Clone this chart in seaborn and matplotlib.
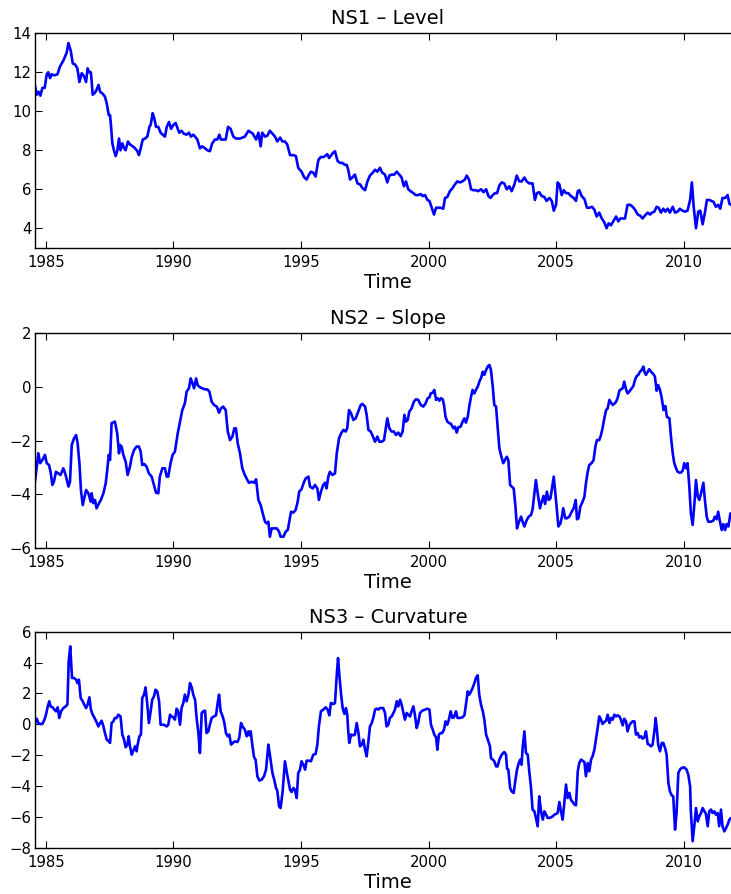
import numpy as np
import pandas as pd
import seaborn as sns
import matplotlib.pyplot as plt

# ==========================================
# DATA (decimal years)
# ==========================================

NS1_T = [
    1984.58, 1984.65, 1984.72, 1984.79, 1984.87, 1984.96, 1985.04, 1985.10, 1985.17, 1985.23,
    1985.30, 1985.36, 1985.46, 1985.56, 1985.69, 1985.82, 1985.89, 1985.98, 1986.06, 1986.15,
    1986.24, 1986.32, 1986.41, 1986.50, 1986.58, 1986.64, 1986.71, 1986.77, 1986.84, 1986.93,
    1986.99, 1987.07, 1987.13, 1987.23, 1987.32, 1987.39, 1987.47, 1987.52, 1987.56, 1987.61,
    1987.67, 1987.74, 1987.80, 1987.87, 1987.93, 1988.00, 1988.07, 1988.13, 1988.22, 1988.30,
    1988.41, 1988.50, 1988.59, 1988.65, 1988.72, 1988.80, 1988.89, 1988.98, 1989.06, 1989.11,
    1989.19, 1989.25, 1989.32, 1989.41, 1989.50, 1989.58, 1989.67, 1989.74, 1989.83, 1989.91,
    1990.00, 1990.09, 1990.17, 1990.23, 1990.32, 1990.41, 1990.52, 1990.61, 1990.69, 1990.78,
    1990.85, 1990.94, 1991.04, 1991.13, 1991.24, 1991.33, 1991.43, 1991.52, 1991.63, 1991.72,
    1991.80, 1991.86, 1991.95, 1992.05, 1992.14, 1992.24, 1992.35, 1992.45, 1992.61, 1992.80,
    1992.94, 1993.00, 1993.11, 1993.24, 1993.33, 1993.42, 1993.48, 1993.59, 1993.68, 1993.78,
    1993.88, 1993.98, 1994.07, 1994.18, 1994.27, 1994.37, 1994.46, 1994.57, 1994.70, 1994.80,
    1994.89, 1995.02, 1995.13, 1995.22, 1995.31, 1995.39, 1995.48, 1995.57, 1995.68, 1995.77,
    1995.87, 1995.94, 1996.03, 1996.10, 1996.16, 1996.24, 1996.33, 1996.43, 1996.53, 1996.62,
    1996.72, 1996.79, 1996.85, 1996.92, 1997.01, 1997.11, 1997.21, 1997.31, 1997.41, 1997.51,
    1997.60, 1997.70, 1997.81, 1997.90, 1997.99, 1998.09, 1998.18, 1998.29, 1998.38, 1998.46,
    1998.55, 1998.65, 1998.75, 1998.85, 1998.94, 1999.03, 1999.11, 1999.20, 1999.29, 1999.40,
    1999.49, 1999.59, 1999.69, 1999.76, 1999.86, 1999.95, 2000.03, 2000.12, 2000.21, 2000.29,
    2000.38, 2000.47, 2000.57, 2000.64, 2000.73, 2000.83, 2000.93, 2001.03, 2001.12, 2001.23,
    2001.32, 2001.42, 2001.49, 2001.58, 2001.66, 2001.75, 2001.85, 2001.94, 2002.05, 2002.15,
    2002.25, 2002.34, 2002.42, 2002.51, 2002.60, 2002.68, 2002.77, 2002.86, 2002.96, 2003.06,
    2003.16, 2003.25, 2003.36, 2003.45, 2003.55, 2003.64, 2003.75, 2003.84, 2003.94, 2004.07,
    2004.16, 2004.24, 2004.33, 2004.43, 2004.53, 2004.62, 2004.73, 2004.82, 2004.90, 2004.99,
    2005.05, 2005.12, 2005.21, 2005.29, 2005.38, 2005.47, 2005.57, 2005.68, 2005.77, 2005.84,
    2005.90, 2005.99, 2006.10, 2006.20, 2006.29, 2006.40, 2006.49, 2006.58, 2006.68, 2006.78,
    2006.88, 2006.97, 2007.05, 2007.14, 2007.23, 2007.34, 2007.43, 2007.51, 2007.60, 2007.69,
    2007.79, 2007.89, 2007.99, 2008.08, 2008.19, 2008.28, 2008.38, 2008.47, 2008.58, 2008.67,
    2008.75, 2008.84, 2008.93, 2009.01, 2009.10, 2009.19, 2009.27, 2009.36, 2009.45, 2009.56,
    2009.65, 2009.75, 2009.84, 2009.94, 2010.04, 2010.14, 2010.24, 2010.31, 2010.38, 2010.47,
    2010.56, 2010.64, 2010.73, 2010.82, 2010.90, 2010.99, 2011.08, 2011.16, 2011.25, 2011.34,
    2011.42, 2011.51, 2011.61, 2011.71, 2011.78, 2011.84,
]
NS1_V = [
    11.3, 10.85, 11.0, 10.8, 11.2, 11.2, 11.9, 12.0, 11.7, 11.9,
    11.85, 11.85, 11.9, 12.3, 12.6, 13.0, 13.5, 13.1, 12.45, 12.4,
    12.2, 11.5, 11.95, 11.8, 11.5, 12.2, 12.0, 12.0, 10.85, 10.95,
    11.1, 11.35, 11.0, 10.9, 10.75, 10.4, 9.8, 9.8, 9.2, 8.35,
    8.0, 7.7, 7.95, 8.6, 8.0, 8.35, 8.1, 8.0, 8.45, 8.3,
    8.2, 8.1, 7.95, 7.75, 8.1, 8.55, 8.6, 8.7, 9.2, 9.3,
    9.9, 9.65, 9.2, 9.2, 8.9, 8.8, 8.7, 9.2, 9.45, 9.1,
    9.3, 9.4, 9.1, 8.9, 9.0, 8.85, 8.8, 8.9, 8.7, 8.8,
    8.7, 8.55, 8.1, 8.2, 8.1, 8.0, 7.95, 8.35, 8.55, 8.55,
    8.8, 8.55, 8.55, 8.55, 9.2, 9.1, 8.7, 8.6, 8.6, 8.7,
    9.0, 8.95, 8.85, 8.55, 8.9, 8.2, 8.9, 8.7, 8.75, 9.0,
    8.85, 8.7, 8.45, 8.65, 8.45, 8.45, 8.3, 7.75, 7.75, 7.7,
    7.1, 6.9, 6.6, 6.5, 6.75, 6.9, 6.85, 6.65, 7.5, 7.65,
    7.65, 7.7, 7.8, 7.6, 7.7, 7.85, 7.95, 7.45, 7.35, 7.35,
    7.25, 7.25, 7.0, 6.5, 6.6, 6.75, 6.3, 6.25, 6.05, 5.95,
    6.4, 6.7, 6.85, 7.0, 6.9, 7.1, 6.85, 6.75, 6.35, 6.7,
    6.75, 6.75, 6.9, 6.75, 6.6, 6.15, 6.4, 6.0, 5.9, 5.8,
    5.7, 5.7, 5.75, 5.65, 5.7, 5.45, 5.4, 5.05, 4.7, 5.05,
    5.05, 5.05, 5.0, 5.55, 5.6, 5.9, 6.05, 6.25, 6.4, 6.35,
    6.4, 6.5, 6.7, 6.5, 6.0, 5.95, 5.95, 5.9, 6.0, 5.85,
    6.0, 5.65, 5.55, 5.7, 5.8, 5.8, 6.2, 6.35, 6.3, 6.0,
    6.15, 5.9, 6.25, 6.7, 6.4, 6.4, 6.6, 6.4, 6.3, 6.3,
    5.45, 5.8, 5.85, 5.65, 5.6, 5.4, 5.55, 5.4, 4.9, 5.2,
    6.35, 6.25, 5.7, 5.95, 5.8, 5.8, 5.65, 5.55, 5.4, 5.9,
    5.95, 5.65, 5.5, 5.05, 5.05, 5.1, 4.95, 4.6, 4.8, 4.5,
    4.3, 4.0, 4.25, 4.15, 4.35, 4.6, 4.35, 4.5, 4.5, 4.5,
    5.2, 5.2, 5.1, 4.95, 4.7, 4.65, 4.5, 4.65, 4.8, 4.7,
    4.8, 4.85, 5.1, 5.05, 4.8, 5.0, 4.85, 5.0, 4.8, 5.1,
    4.8, 4.85, 5.0, 4.9, 4.85, 4.9, 5.45, 6.35, 5.1, 4.0,
    4.85, 4.9, 4.2, 4.8, 5.45, 5.45, 5.4, 5.35, 5.1, 5.2,
    5.0, 5.55, 5.55, 5.7, 5.25, 5.2,
]

NS2_T = [
    1984.58, 1984.65, 1984.71, 1984.78, 1984.87, 1984.97, 1985.04, 1985.13, 1985.19, 1985.26,
    1985.32, 1985.40, 1985.49, 1985.58, 1985.69, 1985.78, 1985.89, 1985.95, 1986.02, 1986.11,
    1986.19, 1986.25, 1986.32, 1986.38, 1986.45, 1986.51, 1986.58, 1986.67, 1986.76, 1986.80,
    1986.86, 1986.93, 1986.99, 1987.09, 1987.16, 1987.26, 1987.35, 1987.41, 1987.47, 1987.52,
    1987.58, 1987.71, 1987.80, 1987.87, 1987.91, 1987.97, 1988.04, 1988.13, 1988.21, 1988.30,
    1988.37, 1988.46, 1988.56, 1988.65, 1988.72, 1988.78, 1988.86, 1988.95, 1989.04, 1989.15,
    1989.24, 1989.32, 1989.41, 1989.47, 1989.57, 1989.67, 1989.74, 1989.80, 1989.89, 1989.97,
    1990.06, 1990.17, 1990.26, 1990.35, 1990.45, 1990.52, 1990.61, 1990.68, 1990.74, 1990.81,
    1990.89, 1990.95, 1991.04, 1991.13, 1991.24, 1991.33, 1991.41, 1991.50, 1991.59, 1991.70,
    1991.79, 1991.86, 1991.95, 1992.05, 1992.13, 1992.22, 1992.31, 1992.39, 1992.45, 1992.52,
    1992.61, 1992.70, 1992.80, 1992.90, 1992.96, 1993.07, 1993.16, 1993.24, 1993.33, 1993.42,
    1993.50, 1993.59, 1993.65, 1993.72, 1993.78, 1993.85, 1993.94, 1994.05, 1994.14, 1994.20,
    1994.31, 1994.40, 1994.48, 1994.54, 1994.61, 1994.70, 1994.79, 1994.87, 1994.93, 1995.02,
    1995.12, 1995.19, 1995.29, 1995.35, 1995.46, 1995.55, 1995.64, 1995.70, 1995.78, 1995.87,
    1995.94, 1996.00, 1996.07, 1996.13, 1996.23, 1996.33, 1996.40, 1996.49, 1996.57, 1996.66,
    1996.75, 1996.81, 1996.88, 1996.96, 1997.05, 1997.14, 1997.24, 1997.34, 1997.40, 1997.51,
    1997.57, 1997.64, 1997.73, 1997.81, 1997.90, 1997.99, 1998.07, 1998.16, 1998.25, 1998.31,
    1998.38, 1998.46, 1998.55, 1998.64, 1998.72, 1998.81, 1998.90, 1998.98, 1999.05, 1999.11,
    1999.18, 1999.24, 1999.33, 1999.42, 1999.50, 1999.59, 1999.69, 1999.79, 1999.88, 1999.96,
    2000.03, 2000.08, 2000.16, 2000.22, 2000.29, 2000.35, 2000.42, 2000.48, 2000.55, 2000.60,
    2000.66, 2000.73, 2000.81, 2000.87, 2000.97, 2001.03, 2001.10, 2001.16, 2001.25, 2001.33,
    2001.40, 2001.46, 2001.53, 2001.59, 2001.66, 2001.72, 2001.79, 2001.85, 2001.92, 2002.01,
    2002.05, 2002.12, 2002.18, 2002.25, 2002.31, 2002.38, 2002.44, 2002.51, 2002.57, 2002.64,
    2002.70, 2002.77, 2002.83, 2002.92, 2002.99, 2003.06, 2003.12, 2003.19, 2003.25, 2003.33,
    2003.40, 2003.46, 2003.54, 2003.62, 2003.68, 2003.75, 2003.84, 2003.92, 2004.01, 2004.07,
    2004.14, 2004.20, 2004.27, 2004.36, 2004.43, 2004.50, 2004.56, 2004.63, 2004.70, 2004.77,
    2004.83, 2004.90, 2004.95, 2005.01, 2005.08, 2005.16, 2005.22, 2005.27, 2005.35, 2005.42,
    2005.51, 2005.60, 2005.68, 2005.76, 2005.81, 2005.87, 2005.94, 2006.03, 2006.10, 2006.16,
    2006.23, 2006.29, 2006.38, 2006.46, 2006.53, 2006.59, 2006.68, 2006.75, 2006.81, 2006.88,
    2006.95, 2007.01, 2007.08, 2007.14, 2007.21, 2007.27, 2007.34, 2007.40, 2007.47, 2007.53,
    2007.60, 2007.66, 2007.73, 2007.79, 2007.86, 2007.92, 2008.02, 2008.08, 2008.15, 2008.21,
    2008.28, 2008.34, 2008.41, 2008.45, 2008.51, 2008.58, 2008.64, 2008.71, 2008.80, 2008.86,
    2008.93, 2008.99, 2009.06, 2009.13, 2009.20, 2009.27, 2009.33, 2009.43, 2009.49, 2009.56,
    2009.62, 2009.69, 2009.75, 2009.82, 2009.88, 2009.95, 2010.01, 2010.08, 2010.14, 2010.21,
    2010.27, 2010.34, 2010.41, 2010.47, 2010.54, 2010.60, 2010.67, 2010.76, 2010.82, 2010.89,
    2010.95, 2011.06, 2011.15, 2011.21, 2011.28, 2011.34, 2011.41, 2011.48, 2011.54, 2011.61,
    2011.67, 2011.74, 2011.82,
]
NS2_V = [
    -3.53, -2.97, -2.47, -2.84, -2.72, -2.53, -2.84, -2.91, -3.16, -3.65,
    -3.53, -3.16, -3.22, -3.28, -3.03, -3.28, -3.71, -3.53, -2.16, -1.91,
    -1.79, -2.10, -2.84, -3.84, -4.40, -4.15, -3.84, -3.96, -4.27, -3.96,
    -4.33, -4.21, -4.52, -4.33, -4.21, -3.96, -3.59, -3.09, -2.53, -2.72,
    -1.35, -1.29, -1.73, -2.47, -2.16, -2.22, -2.53, -2.78, -3.28, -2.97,
    -2.60, -2.35, -2.22, -2.22, -2.41, -2.91, -2.87, -2.97, -3.22, -3.34,
    -3.65, -3.94, -3.96, -3.34, -3.03, -3.03, -3.34, -3.34, -2.84, -2.53,
    -2.41, -1.73, -1.29, -0.86, -0.61, -0.17, -0.05, 0.32, 0.16, -0.05,
    0.32, 0.07, -0.01, -0.05, -0.09, -0.09, -0.17, -0.55, -0.67, -0.73,
    -0.96, -0.80, -0.73, -0.86, -1.66, -1.98, -1.85, -1.54, -1.54, -2.10,
    -2.47, -3.03, -3.28, -3.47, -3.57, -3.53, -3.57, -3.44, -4.21, -4.40,
    -4.71, -5.02, -5.08, -5.02, -5.58, -5.27, -5.27, -5.27, -5.39, -5.58,
    -5.58, -5.39, -5.33, -5.02, -4.65, -4.68, -4.58, -4.27, -3.90, -3.81,
    -3.53, -3.40, -3.34, -3.71, -3.78, -3.65, -3.78, -4.21, -3.90, -3.65,
    -3.57, -3.78, -3.34, -3.16, -3.28, -3.22, -2.47, -1.91, -1.73, -1.60,
    -1.66, -1.54, -0.86, -0.98, -1.23, -1.17, -0.92, -0.67, -0.63, -0.73,
    -1.04, -1.60, -1.66, -1.83, -2.04, -1.85, -2.04, -2.04, -1.98, -1.60,
    -1.17, -1.54, -1.66, -1.66, -1.79, -1.70, -1.83, -1.66, -1.04, -1.29,
    -1.23, -0.92, -0.80, -0.55, -0.46, -0.48, -0.67, -0.73, -0.61, -0.42,
    -0.39, -0.24, -0.21, -0.11, -0.48, -0.42, -0.51, -0.42, -0.46, -0.67,
    -1.11, -1.29, -1.35, -1.37, -1.54, -1.48, -1.70, -1.50, -1.48, -1.29,
    -1.17, -1.33, -1.11, -0.73, -0.36, -0.11, -0.24, -0.11, 0.01, 0.26,
    0.32, 0.57, 0.45, 0.63, 0.76, 0.82, 0.63, 0.01, -0.67, -0.73,
    -1.48, -2.29, -2.53, -2.84, -2.72, -2.60, -2.72, -3.65, -3.71, -3.78,
    -4.46, -5.27, -5.02, -4.83, -5.02, -5.20, -4.96, -4.83, -4.77, -4.56,
    -3.96, -3.47, -3.96, -4.52, -4.27, -4.06, -4.36, -3.90, -4.21, -4.15,
    -3.78, -3.34, -3.84, -4.46, -5.20, -5.08, -4.83, -4.52, -4.89, -4.89,
    -4.83, -4.65, -4.52, -4.21, -4.93, -4.89, -4.46, -4.27, -4.09, -3.59,
    -3.16, -2.91, -2.84, -2.72, -2.22, -1.98, -1.98, -1.79, -1.54, -1.17,
    -0.86, -0.80, -0.48, -0.58, -0.67, -0.63, -0.55, -0.42, -0.14, -0.09,
    -0.05, 0.20, -0.09, -0.24, -0.17, -0.09, 0.04, 0.26, 0.41, 0.45,
    0.57, 0.63, 0.76, 0.57, 0.45, 0.57, 0.66, 0.57, 0.48, 0.39,
    -0.14, 0.07, -0.11, -0.42, -0.86, -0.71, -1.11, -1.17, -1.85, -2.47,
    -2.84, -3.03, -3.16, -3.19, -3.19, -3.12, -2.84, -3.03, -2.84, -3.71,
    -4.71, -5.14, -4.33, -3.47, -4.09, -4.21, -3.96, -3.57, -4.21, -4.83,
    -5.02, -5.02, -4.98, -4.83, -4.93, -4.65, -5.02, -5.33, -5.11, -5.33,
    -5.11, -5.20, -4.71,
]

NS3_T = [
    1984.58, 1984.65, 1984.71, 1984.78, 1984.87, 1984.95, 1985.01, 1985.08, 1985.14, 1985.19,
    1985.27, 1985.34, 1985.40, 1985.47, 1985.53, 1985.60, 1985.69, 1985.78, 1985.85, 1985.90,
    1985.96, 1986.03, 1986.11, 1986.19, 1986.24, 1986.30, 1986.37, 1986.45, 1986.51, 1986.58,
    1986.64, 1986.71, 1986.77, 1986.84, 1986.90, 1986.99, 1987.06, 1987.13, 1987.19, 1987.26,
    1987.32, 1987.39, 1987.45, 1987.52, 1987.58, 1987.65, 1987.71, 1987.78, 1987.84, 1987.93,
    1988.00, 1988.07, 1988.13, 1988.20, 1988.25, 1988.30, 1988.37, 1988.43, 1988.50, 1988.56,
    1988.60, 1988.67, 1988.73, 1988.78, 1988.85, 1988.91, 1988.98, 1989.04, 1989.11, 1989.17,
    1989.24, 1989.30, 1989.37, 1989.44, 1989.50, 1989.61, 1989.67, 1989.74, 1989.80, 1989.87,
    1989.93, 1990.00, 1990.06, 1990.13, 1990.19, 1990.26, 1990.32, 1990.39, 1990.45, 1990.52,
    1990.59, 1990.65, 1990.72, 1990.78, 1990.85, 1990.91, 1990.98, 1991.04, 1991.11, 1991.17,
    1991.24, 1991.30, 1991.37, 1991.43, 1991.50, 1991.59, 1991.67, 1991.73, 1991.79, 1991.85,
    1991.93, 1991.99, 1992.06, 1992.13, 1992.19, 1992.26, 1992.32, 1992.41, 1992.51, 1992.58,
    1992.65, 1992.71, 1992.80, 1992.87, 1992.94, 1992.98, 1993.03, 1993.09, 1993.16, 1993.22,
    1993.29, 1993.37, 1993.46, 1993.55, 1993.63, 1993.72, 1993.78, 1993.88, 1993.95, 1994.02,
    1994.07, 1994.14, 1994.20, 1994.28, 1994.37, 1994.46, 1994.57, 1994.63, 1994.70, 1994.76,
    1994.83, 1994.89, 1994.96, 1995.02, 1995.09, 1995.16, 1995.22, 1995.31, 1995.39, 1995.48,
    1995.57, 1995.64, 1995.70, 1995.78, 1995.87, 1995.97, 1996.04, 1996.11, 1996.17, 1996.27,
    1996.33, 1996.40, 1996.45, 1996.50, 1996.57, 1996.63, 1996.70, 1996.76, 1996.81, 1996.85,
    1996.89, 1996.96, 1997.05, 1997.11, 1997.18, 1997.24, 1997.31, 1997.38, 1997.44, 1997.51,
    1997.57, 1997.64, 1997.70, 1997.77, 1997.83, 1997.90, 1997.96, 1998.03, 1998.09, 1998.16,
    1998.22, 1998.29, 1998.35, 1998.42, 1998.48, 1998.55, 1998.62, 1998.68, 1998.75, 1998.81,
    1998.88, 1998.94, 1999.01, 1999.07, 1999.14, 1999.20, 1999.27, 1999.33, 1999.40, 1999.46,
    1999.53, 1999.59, 1999.66, 1999.75, 1999.86, 1999.95, 2000.03, 2000.09, 2000.16, 2000.22,
    2000.29, 2000.34, 2000.40, 2000.47, 2000.53, 2000.60, 2000.66, 2000.73, 2000.79, 2000.86,
    2000.93, 2000.99, 2001.07, 2001.13, 2001.23, 2001.32, 2001.40, 2001.46, 2001.53, 2001.59,
    2001.66, 2001.72, 2001.79, 2001.85, 2001.92, 2001.98, 2002.05, 2002.12, 2002.18, 2002.25,
    2002.34, 2002.40, 2002.44, 2002.51, 2002.57, 2002.64, 2002.70, 2002.77, 2002.86, 2002.96,
    2003.03, 2003.07, 2003.12, 2003.19, 2003.25, 2003.33, 2003.40, 2003.46, 2003.53, 2003.59,
    2003.64, 2003.68, 2003.75, 2003.81, 2003.88, 2003.94, 2004.01, 2004.07, 2004.14, 2004.20,
    2004.27, 2004.33, 2004.40, 2004.47, 2004.53, 2004.60, 2004.66, 2004.73, 2004.79, 2004.86,
    2004.92, 2004.99, 2005.05, 2005.12, 2005.18, 2005.25, 2005.31, 2005.38, 2005.44, 2005.51,
    2005.57, 2005.64, 2005.71, 2005.77, 2005.84, 2005.90, 2005.97, 2006.03, 2006.10, 2006.16,
    2006.23, 2006.29, 2006.36, 2006.42, 2006.49, 2006.55, 2006.62, 2006.68, 2006.75, 2006.81,
    2006.88, 2006.95, 2007.01, 2007.08, 2007.14, 2007.21, 2007.27, 2007.34, 2007.40, 2007.47,
    2007.53, 2007.60, 2007.66, 2007.73, 2007.79, 2007.86, 2007.92, 2007.99, 2008.06, 2008.12,
    2008.19, 2008.25, 2008.32, 2008.38, 2008.45, 2008.51, 2008.58, 2008.64, 2008.71, 2008.77,
    2008.84, 2008.89, 2008.94, 2008.99, 2009.06, 2009.13, 2009.19, 2009.26, 2009.32, 2009.39,
    2009.45, 2009.52, 2009.58, 2009.65, 2009.71, 2009.78, 2009.84, 2009.91, 2010.01, 2010.10,
    2010.17, 2010.24, 2010.27, 2010.34, 2010.41, 2010.47, 2010.54, 2010.60, 2010.67, 2010.73,
    2010.80, 2010.86, 2010.93, 2010.99, 2011.06, 2011.12, 2011.19, 2011.25, 2011.32, 2011.38,
    2011.45, 2011.51, 2011.58, 2011.65, 2011.71, 2011.78, 2011.84,
]
NS3_V = [
    0.08, 0.36, 0.08, 0.02, 0.02, 0.30, 0.62, 1.16, 1.49, 1.16,
    1.10, 0.95, 0.84, 1.10, 0.41, 0.84, 1.05, 1.16, 1.27, 4.08,
    5.05, 3.00, 3.00, 2.89, 2.67, 2.89, 1.70, 1.49, 1.27, 1.05,
    1.27, 1.75, 0.95, 0.62, 0.45, 0.15, -0.14, 0.08, 0.23, -0.14,
    -0.57, -1.00, -1.06, -1.21, 0.08, 0.19, 0.41, 0.41, 0.62, 0.51,
    -0.67, -1.00, -1.49, -1.32, -0.78, -1.43, -1.97, -1.71, -1.43, -1.75,
    -1.32, -0.78, -0.67, 1.70, 1.92, 2.39, 1.27, 0.08, 0.84, 1.59,
    1.81, 2.24, 2.13, 1.49, -0.03, -0.03, -0.07, -0.14, -0.03, 0.62,
    0.51, 0.45, 0.30, 1.01, 0.84, -0.03, 1.05, 1.38, 1.92, 1.49,
    1.92, 2.67, 2.39, 1.92, 1.59, 0.41, -0.57, -1.86, 0.73, 0.84,
    0.88, -0.57, -0.46, -0.03, 0.41, 0.51, 0.58, 1.31, 1.92, 0.84,
    0.51, 0.15, -0.57, -0.78, -0.67, -1.32, -1.21, -1.11, -1.15, -0.89,
    0.08, -0.14, -0.35, -0.78, -0.46, -0.72, -0.46, -1.32, -2.14, -2.29,
    -3.37, -3.65, -3.59, -3.37, -2.94, -1.32, -1.97, -3.16, -3.59, -4.13,
    -4.30, -5.32, -5.43, -4.35, -2.40, -3.27, -4.24, -4.39, -4.13, -4.24,
    -4.78, -3.16, -2.94, -2.40, -2.62, -2.94, -2.36, -2.36, -2.40, -1.97,
    -1.93, -1.32, -0.14, 0.84, 0.95, 1.10, 0.95, 0.58, 1.38, 1.31,
    1.38, 3.21, 4.29, 3.21, 1.92, 1.05, 0.67, 1.05, 0.62, -0.46,
    -1.21, -0.67, -0.72, -0.67, 0.08, -0.46, -1.43, -1.32, -1.00, -1.65,
    -2.08, -1.11, -0.14, 0.08, 0.41, 0.95, 1.01, 0.95, 1.05, 1.05,
    1.05, 0.73, -0.14, -0.03, 0.41, 0.51, 0.73, 0.95, 1.49, 1.16,
    1.59, 1.27, 0.73, 0.30, 0.73, 0.62, 0.51, 0.84, 1.16, 0.62,
    -0.24, 0.08, 0.73, 0.88, 0.95, 1.01, 0.95, -0.03, -0.35, -0.67,
    -0.85, -1.65, -0.67, -0.57, -0.57, -0.35, 0.19, -0.03, 0.30, 0.84,
    0.41, 0.45, 0.84, 0.41, 0.41, 0.45, 0.58, 1.27, 2.13, 1.92,
    2.13, 2.35, 2.67, 3.00, 3.17, 1.92, 1.27, 0.84, 0.30, -0.67,
    -1.11, -1.43, -2.19, -2.29, -2.40, -2.73, -2.73, -2.29, -1.97, -1.80,
    -1.97, -2.88, -2.94, -4.13, -4.35, -4.45, -3.59, -2.94, -2.51, -2.29,
    -2.62, -1.54, -0.46, -1.86, -1.97, -3.05, -4.13, -5.53, -5.64, -6.07,
    -6.61, -4.67, -5.64, -6.18, -5.64, -5.86, -6.07, -6.07, -6.03, -5.97,
    -5.86, -5.81, -5.75, -5.04, -5.64, -6.18, -5.11, -3.91, -4.78, -4.45,
    -4.89, -5.04, -5.21, -5.25, -3.05, -2.51, -2.29, -2.36, -2.45, -3.37,
    -2.51, -3.05, -2.29, -2.08, -1.65, -1.00, -0.24, 0.51, 0.30, 0.02,
    0.15, 0.23, 0.62, 0.08, 0.41, 0.30, 0.62, 0.51, 0.58, 0.51,
    0.30, -0.07, 0.36, 0.19, -0.46, -0.07, 0.08, 0.19, 0.19, -0.67,
    -0.57, -0.85, -0.78, -0.93, -0.85, -0.46, -1.28, -1.32, -1.43, -1.32,
    -0.46, 0.41, -0.35, -1.32, -1.75, -1.21, -1.21, -1.54, -1.97, -3.80,
    -4.35, -4.61, -4.67, -6.83, -5.75, -3.16, -2.94, -2.83, -2.79, -2.94,
    -3.27, -4.02, -5.64, -7.58, -6.50, -5.43, -6.29, -5.97, -5.75, -5.43,
    -5.64, -5.81, -6.61, -5.64, -5.53, -5.75, -5.64, -5.86, -5.75, -6.61,
    -5.53, -6.61, -6.94, -6.72, -6.50, -6.18, -6.07,
]

PANEL_TITLES = ["NS1 \u2013 Level", "NS2 \u2013 Slope", "NS3 \u2013 Curvature"]
PANEL_YLIMS = [(3, 14), (-6, 2), (-8, 6)]
PANEL_YTICKS = [[4, 6, 8, 10, 12, 14], [-6, -4, -2, 0, 2], [-8, -6, -4, -2, 0, 2, 4, 6]]
YEAR_TICKS = [1985, 1990, 1995, 2000, 2005, 2010]

# ==========================================
# LAYOUT (MATLAB-like stacked panels)
# ==========================================

FIG_W, FIG_H = 731, 894
LEFT_PX, RIGHT_PX = 35, 741        # right spine sits just outside the canvas
PANEL_PX = [(33.3, 247.7), (333.3, 548.0), (631.7, 847.7)]   # (top, bottom)
X_MIN = 1984.58
X_MAX = X_MIN + (RIGHT_PX - LEFT_PX) / 25.53
LINE_COLOR = "#0000ff"


def draw_panel(fig, title, t, v, ylim, yticks, top_px, bottom_px):
    rect = [LEFT_PX / FIG_W, 1 - bottom_px / FIG_H,
            (RIGHT_PX - LEFT_PX) / FIG_W, (bottom_px - top_px) / FIG_H]
    ax = fig.add_axes(rect)

    df = pd.DataFrame({"Time": t, "Value": v})
    sns.lineplot(data=df, x="Time", y="Value", ax=ax, color=LINE_COLOR,
                 linewidth=1.9, estimator=None)

    ax.set_xlim(X_MIN, X_MAX)
    ax.set_ylim(*ylim)
    ax.set_xticks(YEAR_TICKS)
    ax.set_yticks(yticks)
    # MATLAB style: inward ticks on every side of the box
    ax.tick_params(axis="both", direction="in", length=5, width=0.8,
                   color="black", labelcolor="black", labelsize=10.7)
    ax.tick_params(axis="x", bottom=True, top=True, pad=5)
    ax.tick_params(axis="y", left=True, right=True, pad=2.4)

    for s in ax.spines.values():
        s.set_linewidth(1.0)
        s.set_color("black")
    ax.grid(False)

    ax.set_title(title, fontsize=14, pad=6.5, color="black")
    ax.set_xlabel("Time", fontsize=14, labelpad=2.5, color="black")
    ax.set_ylabel("")
    return ax


def main():
    sns.set_theme(style="white")
    plt.rcParams["font.family"] = ["DejaVu Sans"]

    fig = plt.figure(figsize=(FIG_W / 100, FIG_H / 100), dpi=100)
    series = [(NS1_T, NS1_V), (NS2_T, NS2_V), (NS3_T, NS3_V)]
    for i, (t, v) in enumerate(series):
        top_px, bottom_px = PANEL_PX[i]
        draw_panel(fig, PANEL_TITLES[i], t, v, PANEL_YLIMS[i],
                   PANEL_YTICKS[i], top_px, bottom_px)

    fig.savefig("out.png", dpi=100)


if __name__ == "__main__":
    main()
